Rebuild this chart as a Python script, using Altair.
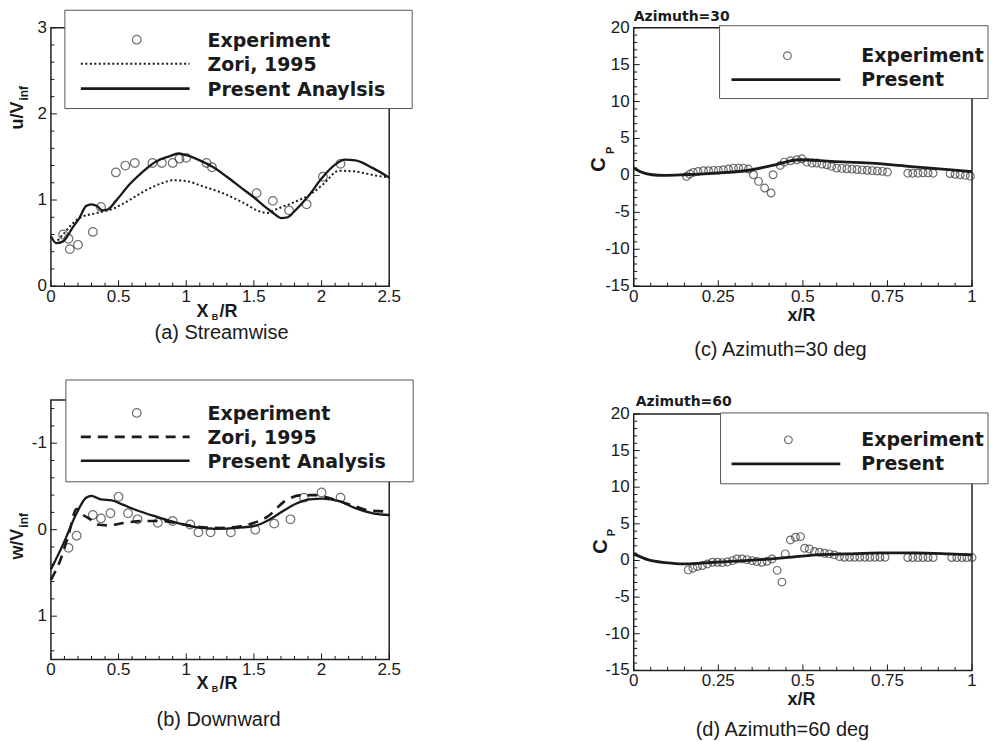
import altair as alt
import pandas as pd

# ---------------- data ----------------
# (a) Streamwise  u/V_inf vs X_B/R
A_EXP_X = [0.09, 0.13, 0.14, 0.20, 0.31, 0.37, 0.48, 0.55, 0.62, 0.75, 0.82, 0.90, 0.95, 1.00,
           1.15, 1.19, 1.52, 1.64, 1.76, 1.89, 2.01, 2.14]
A_EXP_Y = [0.60, 0.55, 0.43, 0.48, 0.63, 0.92, 1.32, 1.40, 1.43, 1.43, 1.43, 1.43, 1.48, 1.49,
           1.43, 1.38, 1.08, 0.99, 0.88, 0.95, 1.27, 1.42]
A_ZORI_X = [0.05, 0.09, 0.15, 0.21, 0.34, 0.46, 0.58, 0.71, 0.83, 0.90, 1.00, 1.12, 1.27, 1.42,
            1.54, 1.60, 1.66, 1.79, 1.93, 2.01, 2.13, 2.25, 2.38, 2.50]
A_ZORI_Y = [0.53, 0.60, 0.71, 0.79, 0.85, 0.90, 1.00, 1.12, 1.20, 1.23, 1.22, 1.16, 1.08, 0.97,
            0.87, 0.85, 0.89, 0.97, 1.08, 1.18, 1.34, 1.33, 1.29, 1.26]
A_PRES_X = [0.00, 0.04, 0.09, 0.16, 0.21, 0.26, 0.30, 0.34, 0.38, 0.42, 0.48, 0.58, 0.68, 0.78,
            0.88, 0.94, 1.00, 1.10, 1.20, 1.30, 1.40, 1.50, 1.60, 1.65, 1.70, 1.75, 1.80, 1.90,
            2.00, 2.10, 2.17, 2.25, 2.38, 2.50]
A_PRES_Y = [0.58, 0.50, 0.52, 0.68, 0.79, 0.93, 0.95, 0.93, 0.88, 0.89, 0.99, 1.18, 1.33, 1.45,
            1.51, 1.54, 1.52, 1.46, 1.38, 1.27, 1.15, 1.03, 0.90, 0.84, 0.79, 0.80, 0.87, 1.04,
            1.25, 1.41, 1.47, 1.46, 1.37, 1.26]

# (b) Downward  w/V_inf vs X_B/R (axis reversed)
B_EXP_X = [0.13, 0.19, 0.31, 0.37, 0.44, 0.50, 0.57, 0.64, 0.79, 0.90, 1.03, 1.09, 1.18, 1.33,
           1.51, 1.65, 1.77, 1.87, 2.00, 2.14]
B_EXP_Y = [0.21, 0.07, -0.17, -0.13, -0.19, -0.38, -0.19, -0.12, -0.08, -0.10, -0.06, 0.03, 0.03,
           0.03, 0.00, -0.07, -0.12, -0.37, -0.43, -0.37]
B_ZORI_X = [0.00, 0.07, 0.13, 0.19, 0.23, 0.29, 0.34, 0.42, 0.55, 0.68, 0.82, 0.95, 1.10, 1.25,
            1.40, 1.52, 1.60, 1.73, 1.85, 1.95, 2.05, 2.13, 2.25, 2.36, 2.50]
B_ZORI_Y = [0.58, 0.35, 0.06, -0.24, -0.18, -0.12, -0.06, -0.05, -0.08, -0.10, -0.10, -0.07, -0.03,
            -0.02, -0.04, -0.09, -0.15, -0.33, -0.40, -0.40, -0.37, -0.33, -0.27, -0.22, -0.21]
B_PRES_X = [0.00, 0.09, 0.19, 0.26, 0.30, 0.37, 0.45, 0.53, 0.66, 0.78, 0.93, 1.07, 1.22, 1.37,
            1.52, 1.62, 1.71, 1.81, 1.91, 2.01, 2.13, 2.25, 2.38, 2.50]
B_PRES_Y = [0.46, 0.17, -0.19, -0.37, -0.39, -0.35, -0.34, -0.29, -0.21, -0.15, -0.08, -0.03, -0.01,
            -0.02, -0.05, -0.12, -0.21, -0.30, -0.35, -0.36, -0.33, -0.25, -0.19, -0.17]

# (c) Azimuth = 30 deg  Cp vs x/R
C_EXP_X = [0.156, 0.166, 0.176, 0.190, 0.206, 0.221, 0.236, 0.250, 0.265, 0.280, 0.295, 0.310,
           0.324, 0.339, 0.354, 0.369, 0.387, 0.406, 0.412, 0.433, 0.445, 0.463, 0.482, 0.497,
           0.512, 0.527, 0.541, 0.556, 0.571, 0.585, 0.600, 0.615, 0.630, 0.645, 0.660, 0.675,
           0.690, 0.705, 0.720, 0.735, 0.750, 0.810, 0.825, 0.840, 0.855, 0.870, 0.885, 0.935,
           0.950, 0.965, 0.980, 0.995]
C_EXP_Y = [-0.14, 0.18, 0.41, 0.54, 0.63, 0.63, 0.68, 0.68, 0.77, 0.86, 0.99, 0.99, 0.99, 0.86,
           0.09, -0.81, -1.71, -2.39, 0.09, 1.35, 1.80, 1.98, 2.12, 2.25, 1.80, 1.67, 1.67, 1.53,
           1.44, 1.22, 0.99, 0.95, 0.90, 0.85, 0.80, 0.75, 0.70, 0.65, 0.60, 0.55, 0.45, 0.30,
           0.30, 0.30, 0.35, 0.35, 0.30, 0.25, 0.15, 0.10, 0.00, -0.10]
C_PRES_X = [0.00, 0.02, 0.054, 0.09, 0.15, 0.24, 0.33, 0.41, 0.49, 0.585, 0.70, 0.82, 0.93, 1.00]
C_PRES_Y = [1.00, 0.50, 0.09, 0.00, 0.09, 0.31, 0.63, 1.35, 2.12, 1.89, 1.66, 1.20, 0.77, 0.50]

# (d) Azimuth = 60 deg  Cp vs x/R
D_EXP_X = [0.161, 0.175, 0.188, 0.203, 0.218, 0.233, 0.248, 0.262, 0.277, 0.292, 0.305, 0.320,
           0.335, 0.350, 0.364, 0.379, 0.394, 0.409, 0.424, 0.438, 0.448, 0.463, 0.478, 0.493,
           0.505, 0.519, 0.534, 0.549, 0.564, 0.578, 0.593, 0.608, 0.623, 0.638, 0.653, 0.668,
           0.683, 0.698, 0.713, 0.728, 0.743, 0.810, 0.825, 0.840, 0.855, 0.870, 0.885, 0.940,
           0.955, 0.970, 0.985, 1.000]
D_EXP_Y = [-1.28, -1.05, -0.82, -0.69, -0.47, -0.24, -0.24, -0.29, -0.20, -0.02, 0.21, 0.21,
           0.12, -0.02, -0.15, -0.24, -0.11, 0.21, -1.35, -2.95, 0.90, 2.80, 3.17, 3.26, 1.67,
           1.58, 1.22, 1.12, 0.99, 0.90, 0.76, 0.53, 0.44, 0.44, 0.44, 0.44, 0.44, 0.44, 0.44,
           0.44, 0.44, 0.40, 0.40, 0.40, 0.40, 0.40, 0.40, 0.40, 0.40, 0.40, 0.40, 0.40]
D_PRES_X = [0.00, 0.044, 0.094, 0.15, 0.24, 0.34, 0.44, 0.54, 0.63, 0.73, 0.83, 0.93, 1.00]
D_PRES_Y = [0.90, 0.08, -0.29, -0.47, -0.24, 0.00, 0.35, 0.76, 0.90, 1.03, 1.03, 0.90, 0.76]

# axis tick values
XB_MAJOR = [0, 0.5, 1, 1.5, 2, 2.5]
XB_MINOR = [0.1, 0.2, 0.3, 0.4, 0.6, 0.7, 0.8, 0.9, 1.1, 1.2, 1.3, 1.4, 1.6, 1.7, 1.8, 1.9,
            2.1, 2.2, 2.3, 2.4]
UA_MAJOR = [0, 1, 2, 3]
UA_MINOR = [0.2, 0.4, 0.6, 0.8, 1.2, 1.4, 1.6, 1.8, 2.2, 2.4, 2.6, 2.8]
WB_MAJOR = [-1, 0, 1]
WB_MINOR = [-1.4, -1.2, -0.8, -0.6, -0.4, -0.2, 0.2, 0.4, 0.6, 0.8, 1.2, 1.4]
XR_MAJOR = [0, 0.25, 0.5, 0.75, 1]
XR_MINOR = [0.05, 0.1, 0.15, 0.2, 0.3, 0.35, 0.4, 0.45, 0.55, 0.6, 0.65, 0.7, 0.8, 0.85, 0.9, 0.95]
CP_MAJOR = [-15, -10, -5, 0, 5, 10, 15, 20]
CP_MINOR = [v for v in range(-14, 20) if v % 5 != 0]

SANS = "Liberation Sans"
BOLD = "DejaVu Sans"
INK = "#1a1a1a"
ONE = [{"k": 0}]
LBL = 17


def dec_text(s, x, y, size, font=SANS, weight="normal", angle=0, align="center",
             baseline="middle", color=INK):
    return alt.Chart(alt.Data(values=ONE)).mark_text(
        text=s, font=font, fontSize=size, fontWeight=weight, angle=angle, align=align,
        baseline=baseline, color=color).encode(x=alt.value(x), y=alt.value(y))


def dec_rect(x1, x2, y1, y2):
    return alt.Chart(alt.Data(values=ONE)).mark_rect(
        fill="white", stroke="#555", strokeWidth=1).encode(
        x=alt.value(x1), x2=alt.value(x2), y=alt.value(y1), y2=alt.value(y2))


def dec_line(x1, x2, y, dash=None, width=2.3):
    kw = dict(color=INK, strokeWidth=width)
    if dash:
        kw["strokeDash"] = dash
    return alt.Chart(alt.Data(values=ONE)).mark_rule(**kw).encode(
        x=alt.value(x1), x2=alt.value(x2), y=alt.value(y))


def dec_circle(x, y, size):
    return alt.Chart(alt.Data(values=ONE)).mark_point(
        shape="circle", filled=False, size=size, color="#333", strokeWidth=1.2).encode(
        x=alt.value(x), y=alt.value(y))


def xticks(vals, xs, H, length):
    return alt.Chart(pd.DataFrame({"v": vals})).mark_rule(color=INK, strokeWidth=1).encode(
        x=alt.X("v:Q", scale=xs, axis=None), y=alt.value(H), y2=alt.value(H - length))


def yticks(vals, ys, length):
    return alt.Chart(pd.DataFrame({"v": vals})).mark_rule(color=INK, strokeWidth=1).encode(
        y=alt.Y("v:Q", scale=ys, axis=None), x=alt.value(0), x2=alt.value(length))


def xlabels(vals, xs, H):
    df = pd.DataFrame({"v": vals, "t": [f"{v:g}" for v in vals]})
    return alt.Chart(df).mark_text(font=SANS, fontSize=LBL, color=INK, align="center",
                                   baseline="top").encode(
        x=alt.X("v:Q", scale=xs, axis=None), y=alt.value(H + 3), text="t:N")


def ylabels(vals, ys):
    df = pd.DataFrame({"v": vals, "t": [f"{v:g}" for v in vals]})
    return alt.Chart(df).mark_text(font=SANS, fontSize=LBL, color=INK, align="right",
                                   baseline="middle").encode(
        y=alt.Y("v:Q", scale=ys, axis=None), x=alt.value(-4), text="t:N")


def points(xv, yv, xs, ys, size):
    df = pd.DataFrame({"x": xv, "y": yv})
    return alt.Chart(df).mark_point(shape="circle", filled=False, size=size, color="#333",
                                    strokeWidth=1.2).encode(
        x=alt.X("x:Q", scale=xs, axis=None), y=alt.Y("y:Q", scale=ys, axis=None))


def curve(xv, yv, xs, ys, dash=None, width=2.3):
    df = pd.DataFrame({"x": xv, "y": yv})
    kw = dict(color=INK, strokeWidth=width, interpolate="monotone")
    if dash:
        kw["strokeDash"] = dash
    return alt.Chart(df).mark_line(**kw).encode(
        x=alt.X("x:Q", scale=xs, axis=None), y=alt.Y("y:Q", scale=ys, axis=None))


def frame(xs, ys, H, xmaj, xmin, ymaj, ymin):
    return [xticks(xmaj, xs, H, 6), xticks(xmin, xs, H, 3.5),
            yticks(ymaj, ys, 6), yticks(ymin, ys, 3.5),
            xlabels(xmaj, xs, H), ylabels(ymaj, ys)]


W = 339

# ---------------- panel (a) ----------------
HA = 259
xs_a = alt.Scale(domain=[0, 2.5], nice=False, zero=False)
ys_a = alt.Scale(domain=[0, 3], nice=False, zero=False)
panel_a = alt.layer(
    points(A_EXP_X, A_EXP_Y, xs_a, ys_a, 75),
    curve(A_ZORI_X, A_ZORI_Y, xs_a, ys_a, dash=[2, 2.5], width=2),
    curve(A_PRES_X, A_PRES_Y, xs_a, ys_a),
    *frame(xs_a, ys_a, HA, XB_MAJOR, XB_MINOR, UA_MAJOR, UA_MINOR),
    dec_rect(14, 362, -17.5, 81),
    dec_circle(86, 12, 75),
    dec_line(30, 139, 36, dash=[2, 2.5], width=2),
    dec_line(30, 139, 61, width=2.6),
    dec_text("Experiment", 157, 13, 19, font=BOLD, weight="bold", align="left"),
    dec_text("Zori, 1995", 157, 37, 19, font=BOLD, weight="bold", align="left"),
    dec_text("Present Anaylsis", 157, 62, 19, font=BOLD, weight="bold", align="left"),
    dec_text("u/V", -33, 74, 18, weight="bold", angle=270, align="right"),
    dec_text("inf", -27, 73, 12, weight="bold", angle=270, align="left"),
    dec_text("X", 158, 285, 18, weight="bold", align="right"),
    dec_text("B", 164.5, 290, 9, weight="bold"),
    dec_text("/R", 169, 285, 18, weight="bold", align="left"),
    dec_text("(a) Streamwise", 171, 306, 20),
).properties(width=W, height=HA)

# ---------------- panel (b) ----------------
HB = 260
xs_b = alt.Scale(domain=[0, 2.5], nice=False, zero=False)
ys_b = alt.Scale(domain=[-1.5, 1.5], nice=False, zero=False, reverse=True)
panel_b = alt.layer(
    points(B_EXP_X, B_EXP_Y, xs_b, ys_b, 75),
    curve(B_ZORI_X, B_ZORI_Y, xs_b, ys_b, dash=[10, 7], width=2.6),
    curve(B_PRES_X, B_PRES_Y, xs_b, ys_b),
    *frame(xs_b, ys_b, HB, XB_MAJOR, XB_MINOR, WB_MAJOR, WB_MINOR),
    dec_rect(15, 363, -20, 82),
    dec_circle(86, 13, 75),
    dec_line(30, 139, 37, dash=[10, 7], width=2.6),
    dec_line(30, 139, 61, width=2.6),
    dec_text("Experiment", 157, 14, 19, font=BOLD, weight="bold", align="left"),
    dec_text("Zori, 1995", 157, 38, 19, font=BOLD, weight="bold", align="left"),
    dec_text("Present Analysis", 157, 62, 19, font=BOLD, weight="bold", align="left"),
    dec_text("w/V", -33, 129, 18, weight="bold", angle=270, align="right"),
    dec_text("inf", -27, 128, 12, weight="bold", angle=270, align="left"),
    dec_text("X", 158, 285, 18, weight="bold", align="right"),
    dec_text("B", 164.5, 290, 9, weight="bold"),
    dec_text("/R", 169, 285, 18, weight="bold", align="left"),
    dec_text("(b) Downward", 168, 321, 20),
).properties(width=W, height=HB)

# ---------------- panel (c) ----------------
HC = 259
xs_c = alt.Scale(domain=[0, 1], nice=False, zero=False)
ys_c = alt.Scale(domain=[-15, 20], nice=False, zero=False)
panel_c = alt.layer(
    points(C_EXP_X, C_EXP_Y, xs_c, ys_c, 60),
    curve(C_PRES_X, C_PRES_Y, xs_c, ys_c, width=2.8),
    *frame(xs_c, ys_c, HC, XR_MAJOR, XR_MINOR, CP_MAJOR, CP_MINOR),
    dec_text("Azimuth=30", 0, -11, 14, font=BOLD, weight="bold", align="left"),
    dec_rect(86, 355, -2, 71),
    dec_circle(154, 28, 60),
    dec_line(98, 207, 52, width=2.8),
    dec_text("Experiment", 228, 28, 19, font=BOLD, weight="bold", align="left"),
    dec_text("Present", 228, 52, 19, font=BOLD, weight="bold", align="left"),
    dec_text("C", -35, 137, 20, weight="bold", angle=270),
    dec_text("P", -23, 123, 11, weight="bold", angle=270),
    dec_text("x/R", 168, 289, 18, weight="bold"),
    dec_text("(c) Azimuth=30 deg", 147, 323, 20),
).properties(width=W, height=HC)

# ---------------- panel (d) ----------------
HD = 257
xs_d = alt.Scale(domain=[0, 1], nice=False, zero=False)
ys_d = alt.Scale(domain=[-15, 20], nice=False, zero=False)
panel_d = alt.layer(
    points(D_EXP_X, D_EXP_Y, xs_d, ys_d, 60),
    curve(D_PRES_X, D_PRES_Y, xs_d, ys_d, width=2.8),
    *frame(xs_d, ys_d, HD, XR_MAJOR, XR_MINOR, CP_MAJOR, CP_MINOR),
    dec_text("Azimuth=60", 2, -12, 14, font=BOLD, weight="bold", align="left"),
    dec_rect(87, 355, -1, 70),
    dec_circle(155, 26, 60),
    dec_line(98, 207, 50, width=2.8),
    dec_text("Experiment", 228, 26, 19, font=BOLD, weight="bold", align="left"),
    dec_text("Present", 228, 50, 19, font=BOLD, weight="bold", align="left"),
    dec_text("C", -33, 133, 20, weight="bold", angle=270),
    dec_text("P", -22, 119, 11, weight="bold", angle=270),
    dec_text("x/R", 168, 287, 18, weight="bold"),
    dec_text("(d) Azimuth=60 deg", 149, 317, 20),
).properties(width=W, height=HD)

left = alt.vconcat(panel_a, panel_b, spacing=114, bounds="flush")
right = alt.vconcat(panel_c, panel_d, spacing=128, bounds="flush")
chart = alt.hconcat(left, right, spacing=584, bounds="flush").properties(
    padding=0, background="white"
).configure_view(stroke="#222", strokeWidth=1.5)

chart.save("out.html", embed_options={"renderer": "svg", "actions": False})
